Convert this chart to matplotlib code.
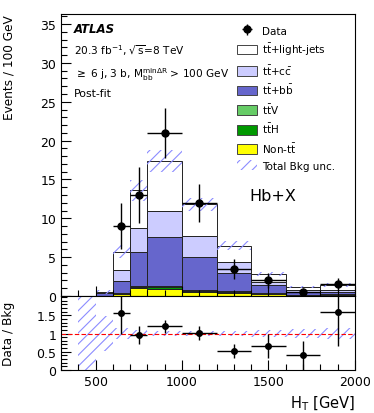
import numpy as np
import matplotlib.pyplot as plt
from matplotlib.patches import Patch
from matplotlib.ticker import MultipleLocator

# === Binning (GeV) and stack contents (events / 100 GeV) ===
edges = [500, 600, 700, 800, 1000, 1200, 1400, 1600, 1800, 2000]
non_tt = [0.05, 0.30, 1.05, 0.85, 0.50, 0.40, 0.20, 0.12, 0.15]
tth = [0.00, 0.05, 0.15, 0.30, 0.10, 0.07, 0.04, 0.02, 0.02]
ttv = [0.00, 0.03, 0.08, 0.15, 0.17, 0.15, 0.10, 0.05, 0.05]
ttbb = [0.35, 1.52, 4.42, 6.30, 4.28, 2.38, 1.06, 0.31, 0.28]
ttcc = [0.05, 1.40, 3.10, 3.40, 2.65, 1.40, 0.44, 0.27, 0.25]
ttlight = [0.05, 2.40, 4.80, 6.40, 4.10, 2.10, 1.02, 0.38, 0.65]
rel_unc = [0.48, 0.15, 0.10, 0.08, 0.07, 0.08, 0.10, 0.12, 0.15]

# === Data ===
data_x = [650, 750, 900, 1100, 1300, 1500, 1700, 1900]
data_xerr = [50, 50, 100, 100, 100, 100, 100, 100]
data_y = [9.0, 13.0, 21.0, 12.0, 3.5, 2.0, 0.5, 1.5]
data_yerr = [3.0, 3.6, 3.24, 2.45, 1.32, 1.0, 0.5, 0.87]

# === Ratio panel ===
ratio_y = [1.55, 0.96, 1.20, 1.02, 0.53, 0.67, 0.40, 1.59]
ratio_yerr = [0.55, 0.26, 0.18, 0.20, 0.19, 0.33, 0.40, 0.92]
band_edges = [400, 500, 600, 700, 800, 1000, 1200, 1400, 1600, 1800, 2000]
band_lo = [0.0, 0.52, 0.85, 0.90, 0.92, 0.93, 0.92, 0.90, 0.88, 0.85]
band_hi = [2.0, 1.48, 1.15, 1.10, 1.08, 1.07, 1.08, 1.10, 1.12, 1.15]

plt.rcParams['font.family'] = 'DejaVu Sans'
plt.rcParams['mathtext.default'] = 'regular'
plt.rcParams['hatch.linewidth'] = 0.8

fig = plt.figure(figsize=(3.74, 4.14), dpi=100)
ax = fig.add_axes([0.163, 0.2826, 0.786, 0.6812])
axr = fig.add_axes([0.163, 0.1039, 0.786, 0.1787], sharex=ax)

left = np.array(edges[:-1])
width = np.diff(edges)
hatch_col = '#8c8cff'

# --- stacked backgrounds (bottom to top) ---
stack = [
    (non_tt, '#ffff00', 'Non-t$\\bar{t}$'),
    (tth, '#009900', 't$\\bar{t}$H'),
    (ttv, '#66cc66', 't$\\bar{t}$V'),
    (ttbb, '#6666cc', 't$\\bar{t}$+b$\\bar{b}$'),
    (ttcc, '#ccccff', 't$\\bar{t}$+c$\\bar{c}$'),
    (ttlight, '#ffffff', 't$\\bar{t}$+light-jets'),
]
bottom = np.zeros(len(left))
handles = {}
for vals, col, lab in stack:
    ax.bar(left, vals, width=width, bottom=bottom, align='edge',
           color=col, edgecolor='#222222', linewidth=0.7)
    handles[lab] = Patch(facecolor=col, edgecolor='#444444', linewidth=0.7)
    bottom = bottom + np.array(vals)
total = bottom

# --- total background uncertainty ---
unc = total * np.array(rel_unc)
ax.bar(left, 2 * unc, width=width, bottom=total - unc, align='edge',
       fill=False, hatch='///', edgecolor=hatch_col, linewidth=0)

# --- data ---
eb = ax.errorbar(data_x, data_y, xerr=data_xerr, yerr=data_yerr, fmt='o',
                 color='black', ms=5, elinewidth=1, capsize=0)

ax.set_xlim(300, 2000)
ax.set_ylim(0, 36.3)
ax.yaxis.set_major_locator(MultipleLocator(5))
ax.yaxis.set_minor_locator(MultipleLocator(1))
ax.xaxis.set_major_locator(MultipleLocator(500))
ax.xaxis.set_minor_locator(MultipleLocator(100))
ax.tick_params(axis='x', labelbottom=False)
for a in (ax, axr):
    a.tick_params(which='major', direction='in', length=7, width=0.8, labelsize=9)
    a.tick_params(which='minor', direction='in', length=4, width=0.8)
ax.set_ylabel('Events / 100 GeV', fontsize=8.7, loc='top')

legend_handles = [eb, handles['t$\\bar{t}$+light-jets'], handles['t$\\bar{t}$+c$\\bar{c}$'],
                  handles['t$\\bar{t}$+b$\\bar{b}$'], handles['t$\\bar{t}$V'],
                  handles['t$\\bar{t}$H'], handles['Non-t$\\bar{t}$'],
                  Patch(facecolor='none', edgecolor=hatch_col, hatch='///', linewidth=0)]
legend_labels = ['Data', 't$\\bar{t}$+light-jets', 't$\\bar{t}$+c$\\bar{c}$', 't$\\bar{t}$+b$\\bar{b}$',
                 't$\\bar{t}$V', 't$\\bar{t}$H', 'Non-t$\\bar{t}$', 'Total Bkg unc.']
ax.legend(legend_handles, legend_labels, loc='upper left', bbox_to_anchor=(0.585, 0.975),
          frameon=False, fontsize=7.5, handlelength=1.9, handleheight=1.05,
          labelspacing=0.52, handletextpad=0.5, borderaxespad=0)

ax.text(0.045, 0.95, 'ATLAS', transform=ax.transAxes, fontsize=8.5,
        fontweight='bold', fontstyle='italic', va='center')
ax.text(0.045, 0.872, '20.3 fb$^{-1}$, $\\sqrt{s}$=8 TeV', transform=ax.transAxes,
        fontsize=7.6, va='center')
ax.text(0.045, 0.79, '$\\geq$ 6 j, 3 b, M$_{bb}^{min\\Delta R}$ > 100 GeV',
        transform=ax.transAxes, fontsize=7.6, va='center')
ax.text(0.045, 0.72, 'Post-fit', transform=ax.transAxes, fontsize=7.8, va='center')
ax.text(0.64, 0.355, 'Hb+X', transform=ax.transAxes, fontsize=11.5, va='center')

# --- ratio ---
axr.bar(band_edges[:-1], np.array(band_hi) - np.array(band_lo), width=np.diff(band_edges),
        bottom=band_lo, align='edge', fill=False, hatch='///', edgecolor=hatch_col, linewidth=0)
axr.axhline(1, color='red', linestyle=(0, (4, 2)), linewidth=0.8)
axr.errorbar(data_x, ratio_y, xerr=data_xerr, yerr=ratio_yerr, fmt='o',
             color='black', ms=4, elinewidth=1, capsize=0)
axr.set_ylim(0, 2.03)
axr.set_yticks([0, 0.5, 1, 1.5])
axr.set_yticklabels(['0', '0.5', '1', '1.5'])
axr.yaxis.set_minor_locator(MultipleLocator(0.1))
axr.set_ylabel('Data / Bkg', fontsize=8.7)
axr.yaxis.set_label_coords(-0.155, 0.5)
ax.yaxis.set_label_coords(-0.155, 1.0)
axr.set_xlabel('H$_T$ [GeV]', fontsize=10.5, loc='right')

fig.savefig('out.png', dpi=100)
